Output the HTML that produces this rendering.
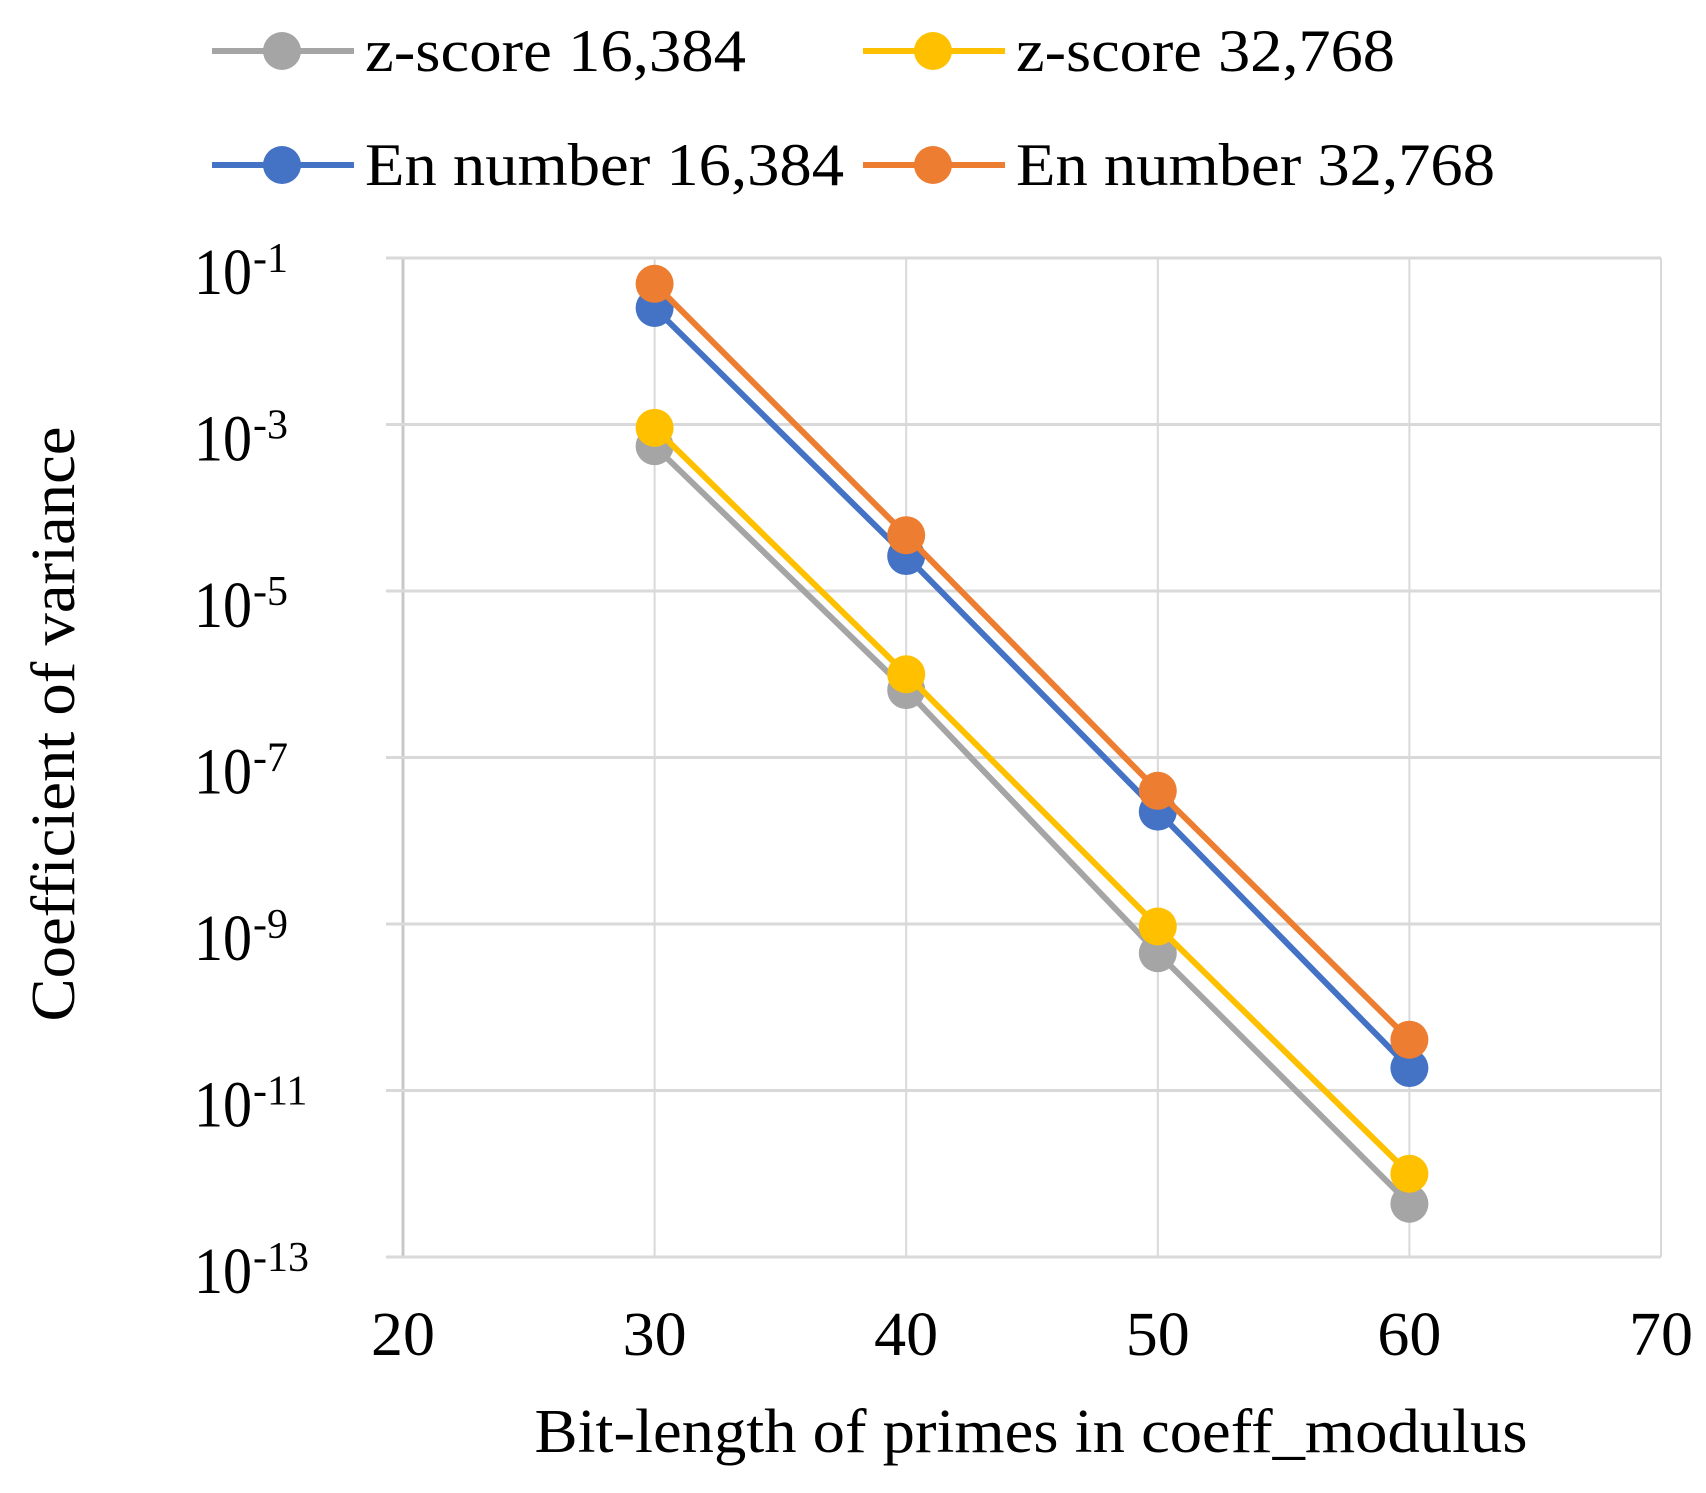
<!DOCTYPE html>
<html><head><meta charset="utf-8"><style>
html,body{margin:0;padding:0;background:#fff;}
svg{display:block;font-family:"Liberation Serif",serif;}
</style></head><body>
<svg id="chart" width="1706" height="1493" viewBox="0 0 1706 1493">
<g id="grid"></g>
<g id="series"></g>
<g id="legend"></g>
<text x="0" y="0" transform="translate(74,724) rotate(-90)" text-anchor="middle" font-size="62" textLength="595" lengthAdjust="spacingAndGlyphs" fill="#000">Coefficient of variance</text>
<text x="1031" y="1452" text-anchor="middle" font-size="62" textLength="993" lengthAdjust="spacingAndGlyphs" fill="#000">Bit-length of primes in coeff_modulus</text>
</svg>
<script>
const xCategories = [30, 40, 50, 60];
const xTicks = [20, 30, 40, 50, 60, 70];
const yTickExps = [-1, -3, -5, -7, -9, -11, -13];
const seriesNames = ["z-score 16,384", "z-score 32,768", "En number 16,384", "En number 32,768"];
const zscore16384 = [-3.26, -6.19, -9.35, -12.36];
const zscore32768 = [-3.04, -6.0, -9.03, -12.0];
const en16384 = [-1.6, -4.58, -7.65, -10.73];
const en32768 = [-1.31, -4.33, -7.4, -10.39];

const NS = "http://www.w3.org/2000/svg";
const L = 403, R = 1661, T = 258, B = 1257;
const xs = v => L + (v - 20) / 50 * (R - L);
const ys = e => T + (-1 - e) / 12 * (B - T);
function mk(tag, attrs, parent) { const el = document.createElementNS(NS, tag); for (const k in attrs) el.setAttribute(k, attrs[k]); parent.appendChild(el); return el; }
const grid = document.getElementById('grid');
xTicks.forEach(t => {
  const ln = mk('line', {x1: xs(t), x2: xs(t), y1: T, y2: B, stroke: t === 20 ? '#c8c8c8' : '#d9d9d9', 'stroke-width': t === 20 ? 3 : 2}, grid);
  
  
  const tx = mk('text', {x: xs(t), y: 1355, 'text-anchor': 'middle', 'font-size': 62, textLength: 64, lengthAdjust: 'spacingAndGlyphs', fill: '#000'}, grid);
  tx.textContent = t;
  
  
});
yTickExps.forEach(e => {
  const ln = mk('line', {x1: 386, x2: R, y1: ys(e), y2: ys(e), stroke: '#d9d9d9', 'stroke-width': 3}, grid);
  
  
  const tx = mk('text', {x: 194, y: ys(e) + 36, 'font-size': 66, textLength: 58, lengthAdjust: 'spacingAndGlyphs', fill: '#000'}, grid);
  tx.textContent = '10';
  
  
  const sp = mk('text', {x: 253, y: ys(e) + 14, 'font-size': 42, fill: '#000'}, grid);
  sp.textContent = String(e);
  
  
});
const colors = ['#a5a5a5', '#ffc000', '#4472c4', '#ed7d31'];
const data = [zscore16384, zscore32768, en16384, en32768];
const sg = document.getElementById('series');
data.forEach((vals, i) => {
  const g = mk('g', {}, sg);
  
  
  const pts = vals.map((v, j) => xs(xCategories[j]) + ',' + ys(v)).join(' ');
  const pl = mk('polyline', {points: pts, fill: 'none', stroke: colors[i], 'stroke-width': 6}, g);
  
  
  vals.forEach((v, j) => {
    const c = mk('circle', {cx: xs(xCategories[j]), cy: ys(v), r: 19, fill: colors[i]}, g);
    
    
  });
});
const lg = document.getElementById('legend');
const legPos = [[212, 51], [863, 51], [212, 165], [863, 165]];
const legWidths = [381, 379, 479, 479];
seriesNames.forEach((n, i) => {
  const [x, y] = legPos[i];
  const g = mk('g', {}, lg);
  
  
  mk('line', {x1: x, x2: x + 142, y1: y, y2: y, stroke: colors[i], 'stroke-width': 6}, g);
  mk('circle', {cx: x + 70, cy: y, r: 19, fill: colors[i]}, g);
  const t = mk('text', {x: x + 153, y: y + 20, 'font-size': 60, textLength: legWidths[i], lengthAdjust: 'spacingAndGlyphs', fill: '#000'}, g);
  t.textContent = n;
});
</script>
</body></html>
